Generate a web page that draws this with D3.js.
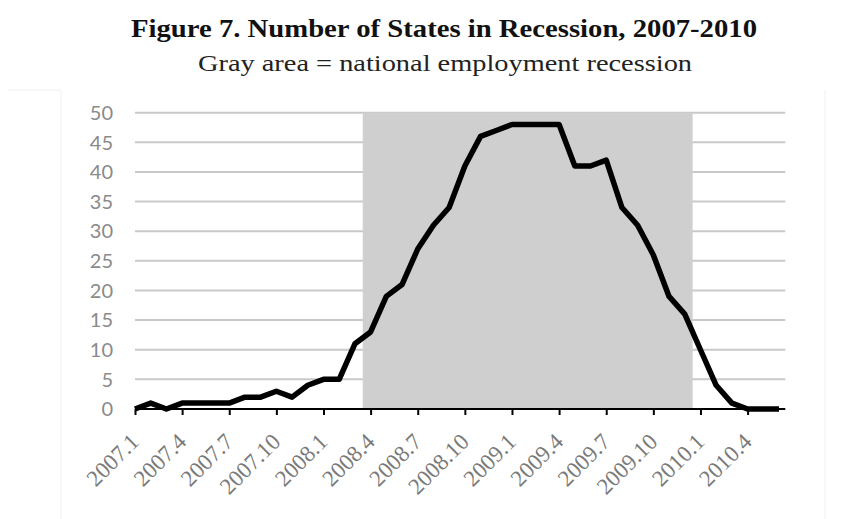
<!DOCTYPE html>
<html>
<head>
<meta charset="utf-8">
<script src="https://cdn.jsdelivr.net/npm/d3@7"></script>
<style>
  html, body { margin: 0; padding: 0; background: #ffffff; }
  svg { display: block; }
</style>
</head>
<body>
<svg id="chart" width="868" height="519"></svg>
<script>
// ---- data ----
const titleText = "Figure 7. Number of States in Recession, 2007-2010";
const subtitleText = "Gray area = national employment recession";
const months = [
  "2007.1","2007.2","2007.3","2007.4","2007.5","2007.6","2007.7","2007.8","2007.9","2007.10","2007.11","2007.12",
  "2008.1","2008.2","2008.3","2008.4","2008.5","2008.6","2008.7","2008.8","2008.9","2008.10","2008.11","2008.12",
  "2009.1","2009.2","2009.3","2009.4","2009.5","2009.6","2009.7","2009.8","2009.9","2009.10","2009.11","2009.12",
  "2010.1","2010.2","2010.3","2010.4","2010.5","2010.6"
];
const statesInRecession = [
  0,1,0,1,1,1,1,2,2,3,2,4,
  5,5,11,13,19,21,27,31,34,41,46,47,
  48,48,48,48,41,41,42,34,31,26,19,16,
  10,4,1,0,0,0
];
const recessionMonths = ["2008.4","2009.12"]; // first and last month of national employment recession
const xTickLabels = ["2007.1","2007.4","2007.7","2007.10","2008.1","2008.4","2008.7","2008.10",
                     "2009.1","2009.4","2009.7","2009.10","2010.1","2010.4"];
const yTicks = [0,5,10,15,20,25,30,35,40,45,50];

// ---- layout ----
const svg = d3.select("#chart");
const x = d3.scalePoint().domain(months).range([135, 779]);
const y = d3.scaleLinear().domain([0, 50]).range([409, 112.7]);
const step = x.step();
const xEnd = x(months[months.length - 1]) + step * 0.4;

// faint frame artifacts of pasted picture
svg.append("path").attr("d", "M8,90H61V519").attr("fill", "none").attr("stroke", "#f1f1f1").attr("stroke-width", 1);
svg.append("path").attr("d", "M825,90V519").attr("fill", "none").attr("stroke", "#f1f1f1").attr("stroke-width", 1);

// title
svg.append("text")
  .attr("x", 131).attr("y", 37)
  .attr("font-family", "'Liberation Serif', 'DejaVu Serif', serif")
  .attr("font-weight", "bold")
  .attr("font-size", 25)
  .attr("textLength", 626)
  .attr("lengthAdjust", "spacingAndGlyphs")
  .attr("fill", "#111")
  .text(titleText);
svg.append("text")
  .attr("x", 198).attr("y", 71)
  .attr("font-family", "'Liberation Serif', 'DejaVu Serif', serif")
  .attr("font-size", 24)
  .attr("textLength", 494)
  .attr("lengthAdjust", "spacingAndGlyphs")
  .attr("fill", "#222")
  .text(subtitleText);

// gridlines
svg.append("g").selectAll("line")
  .data(yTicks.filter(d => d > 0))
  .join("line")
  .attr("x1", x(months[0])).attr("x2", xEnd)
  .attr("y1", d => y(d)).attr("y2", d => y(d))
  .attr("stroke", "#c9c9c9").attr("stroke-width", 2);

// recession shading
svg.append("rect")
  .attr("x", x(recessionMonths[0]) - step / 2)
  .attr("width", x(recessionMonths[1]) - x(recessionMonths[0]) + step)
  .attr("y", y(50))
  .attr("height", y(0) - y(50))
  .attr("fill", "#d0cfd0");

// y axis labels
svg.append("g").selectAll("text")
  .data(yTicks)
  .join("text")
  .attr("x", 113)
  .attr("y", d => y(d))
  .attr("dy", "0.36em")
  .attr("text-anchor", "end")
  .attr("font-family", "Lato, 'Open Sans', sans-serif")
  .attr("font-size", 20)
  .attr("fill", "#8a8a8a")
  .text(d => d);

// x axis
const xAxis = d3.axisBottom(x)
  .tickValues(xTickLabels)
  .tickSize(6)
  .tickSizeOuter(0);
const gx = svg.append("g")
  .attr("transform", `translate(0,${y(0)})`)
  .call(xAxis);
gx.select(".domain").remove();
gx.append("line").attr("x1", x(months[0])).attr("x2", xEnd).attr("y1", 0).attr("y2", 0)
  .attr("stroke", "#000").attr("stroke-width", 2);
gx.selectAll(".tick line").attr("stroke", "#000").attr("stroke-width", 2);
gx.selectAll(".tick text")
  .attr("font-family", "'Liberation Serif', 'DejaVu Serif', serif")
  .attr("font-size", 23)
  .attr("fill", "#7a7a7a")
  .attr("text-anchor", "end")
  .attr("x", 0)
  .attr("y", 0)
  .attr("dy", "0")
  .attr("transform", "translate(5,34) rotate(-45)");

// line
const line = d3.line()
  .x((d, i) => x(months[i]))
  .y(d => y(d));
svg.append("path")
  .datum(statesInRecession)
  .attr("d", line)
  .attr("fill", "none")
  .attr("stroke", "#000")
  .attr("stroke-width", 5.5)
  .attr("stroke-linejoin", "round");
</script>
</body>
</html>
